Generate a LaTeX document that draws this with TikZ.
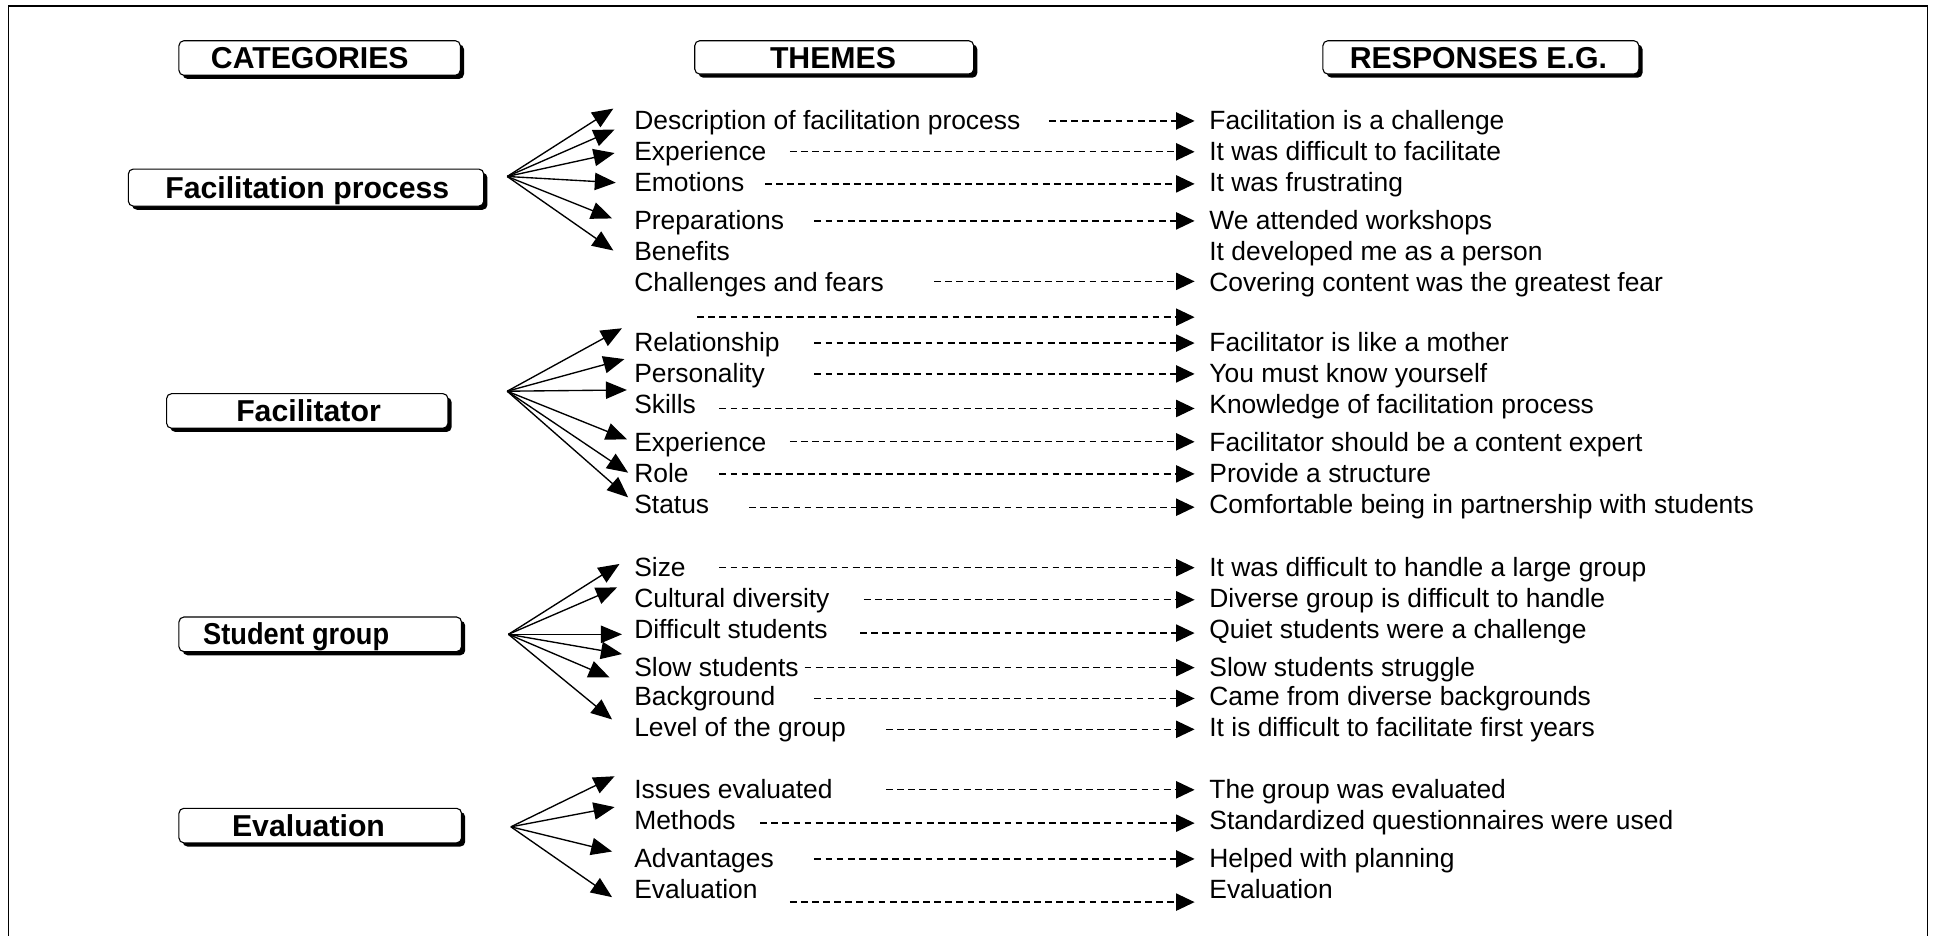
\documentclass[tikz,border=0pt]{standalone}
\usepackage{fontspec}
\setmainfont{Liberation Sans}
\usetikzlibrary{arrows.meta,shadows}

\begin{document}
\begin{tikzpicture}[x=1pt,y=-1pt,
  every node/.style={inner sep=0pt, outer sep=0pt},
  theme/.style={anchor=base west, font=\fontsize{21.4}{24}\selectfont},
  hdr/.style={draw=black, line width=0.9pt, rounded corners=4pt, fill=white,
    drop shadow={shadow xshift=3pt, shadow yshift=-3pt, fill=black, opacity=1}},
  hdrtext/.style={anchor=base, font=\fontsize{24.5}{28}\selectfont\bfseries},
  fan/.style={line width=1.1pt, -{Triangle[length=17pt,width=14pt]}},
  link/.style={line width=1.1pt, dash pattern=on 5.5pt off 3.5pt,
    -{Triangle[length=15pt,width=14pt]}},
]
\useasboundingbox (0,0) rectangle (1568,758);

% page frame (open at the bottom)
\draw[line width=1.2pt] (7,780) -- (7,5) -- (1562,5) -- (1562,780);

% column headings
\node[hdr, minimum width=228pt, minimum height=28pt] (catbox) at (259,47) {};
\node[hdrtext] (cattext) at (251,55.5) {CATEGORIES};
\node[hdr, minimum width=226pt, minimum height=27pt] (thmbox) at (676,46.5) {};
\node[hdrtext] (thmtext) at (675,55.5) {THEMES};
\node[hdr, minimum width=256pt, minimum height=27pt] (rspbox) at (1200,46.5) {};
\node[hdrtext] (rsptext) at (1198,55.5) {RESPONSES E.G.};

% category boxes
\node[hdr, minimum width=288pt, minimum height=30pt] (c1box) at (248,152) {};
\node[hdrtext] (c1text) at (249,160.5) {Facilitation process};
\node[hdr, minimum width=228pt, minimum height=28pt] (c2box) at (249,333) {};
\node[hdrtext] (c2text) at (250,341.5) {Facilitator};
\node[hdr, minimum width=229pt, minimum height=28pt] (c3box) at (259.5,514) {};
\node[hdrtext, xscale=0.9, transform shape] (c3text) at (240,522.5) {Student group};
\node[hdr, minimum width=229pt, minimum height=28pt] (c4box) at (259.5,669) {};
\node[hdrtext] (c4text) at (250,677.5) {Evaluation};

% fan origins
\coordinate (f1o) at (411,143);
\coordinate (f2o) at (411,317);
\coordinate (f3o) at (412,514);
\coordinate (f4o) at (414,670);

% fan arrows to the themes
\foreach \i/\x/\y in {1/497/88, 2/498/105, 3/498/124, 4/499/148, 5/496/177, 6/497/203}
  {\coordinate (f1t\i) at (\x,\y); \draw[fan] (f1o) -- (f1t\i);}
\foreach \i/\x/\y in {1/504/266, 2/506/291, 3/508/316, 4/508/356, 5/509/383, 6/509/403}
  {\coordinate (f2t\i) at (\x,\y); \draw[fan] (f2o) -- (f2t\i);}
\foreach \i/\x/\y in {1/502/457, 2/500/476, 3/504/514, 4/504/530, 5/494/549, 6/496/583}
  {\coordinate (f3t\i) at (\x,\y); \draw[fan] (f3o) -- (f3t\i);}
\foreach \i/\x/\y in {1/498/629, 2/498/654, 3/496/690, 4/496/727}
  {\coordinate (f4t\i) at (\x,\y); \draw[fan] (f4o) -- (f4t\i);}

% themes
\foreach \i/\y/\t in {
  1/98/Description of facilitation process, 2/123/Experience, 3/148/Emotions,
  4/179/Preparations, 5/204/Benefits, 6/229/Challenges and fears,
  7/278/Relationship, 8/303/Personality, 9/328/Skills,
  10/359/Experience, 11/384/Role, 12/409/Status,
  13/460/Size, 14/485/Cultural diversity, 15/510/Difficult students,
  16/541/Slow students, 17/565/Background, 18/590/Level of the group,
  19/640/Issues evaluated, 20/665/Methods, 21/696/Advantages, 22/721/Evaluation}
  {\node[theme] (th\i) at (514,\y+7) {\t};}

% responses
\foreach \i/\y/\t in {
  1/98/Facilitation is a challenge, 2/123/It was difficult to facilitate,
  3/148/It was frustrating, 4/179/We attended workshops,
  5/204/It developed me as a person, 6/229/Covering content was the greatest fear,
  7/278/Facilitator is like a mother, 8/303/You must know yourself,
  9/328/Knowledge of facilitation process, 10/359/Facilitator should be a content expert,
  11/384/Provide a structure, 12/409/Comfortable being in partnership with students,
  13/460/It was difficult to handle a large group, 14/485/Diverse group is difficult to handle,
  15/510/Quiet students were a challenge, 16/541/Slow students struggle,
  17/565/Came from diverse backgrounds, 18/590/It is difficult to facilitate first years,
  19/640/The group was evaluated, 20/665/Standardized questionnaires were used,
  21/696/Helped with planning, 22/721/Evaluation}
  {\node[theme] (rs\i) at (980,\y+7) {\t};}

% dashed links from themes to responses
\foreach \i/\x/\y in {
  1/850/98, 2/640/123, 3/620/149, 4/660/179, 6/757/228, 7/565/257,
  8/660/278, 9/660/303, 10/583/331, 11/640/358, 12/583/384, 13/607/411,
  14/583/460, 15/700/486, 16/697/513, 17/652/541, 18/660/566, 19/718/591,
  20/718/640, 21/616/667, 22/660/696, 23/640/731}
  {\coordinate (ds\i) at (\x,\y); \coordinate (de\i) at (968,\y);
   \draw[link] (ds\i) -- (de\i);}

\end{tikzpicture}
\end{document}
